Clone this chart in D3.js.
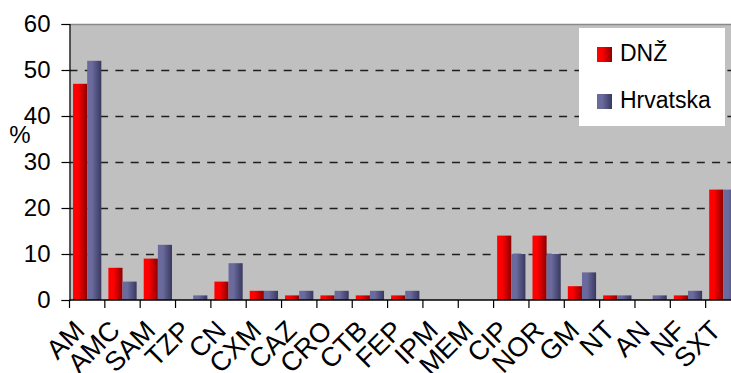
<!DOCTYPE html>
<html>
<head>
<meta charset="utf-8">
<script src="https://cdn.jsdelivr.net/npm/d3@7"></script>
<style>
  html, body { margin: 0; padding: 0; background: #fff; }
  svg { display: block; }
  text { font-family: "Liberation Sans", Arial, sans-serif; fill: #000; }
</style>
</head>
<body>
<svg id="chart" width="731" height="373"></svg>
<script>
const categories = ["AM","AMC","SAM","TZP","CN","CXM","CAZ","CRO","CTB","FEP","IPM","MEM","CIP","NOR","GM","NT","AN","NF","SXT"];
const seriesNames = ["DNŽ","Hrvatska"];
const dnzValues = [47,7,9,0,4,2,1,1,1,1,0,0,14,14,3,1,0,1,24];
const hrvValues = [52,4,12,1,8,2,2,2,2,2,0,0,10,10,6,1,1,2,24];
const yTicks = [0,10,20,30,40,50,60];
const yLabel = "%";

const svg = d3.select("#chart");
const pLeft = 69.5, pRight = 741, pTop = 24, pBottom = 300;

const defs = svg.append("defs");
const grads = [
  {id: "gRed", c0: "#ff0000", c1: "#8c0000"},
  {id: "gBlue", c0: "#6a6a9c", c1: "#383860"}
];
grads.forEach(g => {
  const lg = defs.append("linearGradient").attr("id", g.id)
    .attr("x1", "0%").attr("x2", "100%").attr("y1", "0%").attr("y2", "0%");
  lg.append("stop").attr("offset", "0%").attr("stop-color", g.c0);
  lg.append("stop").attr("offset", "35%").attr("stop-color", g.c0);
  lg.append("stop").attr("offset", "100%").attr("stop-color", g.c1);
});
const fills = ["url(#gRed)", "url(#gBlue)"];

const x0 = d3.scaleBand().domain(categories).range([pLeft, pRight]).padding(0);
const x1 = d3.scaleBand().domain(seriesNames).range([x0.bandwidth()*0.1, x0.bandwidth()*0.9]).padding(0);
const y = d3.scaleLinear().domain([0, 60]).range([pBottom, pTop]);

// plot background
svg.append("rect").attr("x", pLeft).attr("y", pTop).attr("width", pRight-pLeft).attr("height", pBottom-pTop)
  .attr("fill", "#c0c0c0");
// top border
svg.append("line").attr("x1", pLeft).attr("x2", pRight).attr("y1", pTop+0.5).attr("y2", pTop+0.5)
  .attr("stroke", "#8a8a8a").attr("stroke-width", 1.5);

// gridlines
svg.append("g").selectAll("line").data(yTicks.filter(t => t > 0 && t < 60)).join("line")
  .attr("x1", pLeft).attr("x2", pRight)
  .attr("y1", d => Math.round(y(d)) + 0.5).attr("y2", d => Math.round(y(d)) + 0.5)
  .attr("stroke", "#1e1e1e").attr("stroke-width", 1.3).attr("stroke-dasharray", "8,7.3");

// bars
const data = categories.map((c, i) => ({cat: c, vals: [dnzValues[i], hrvValues[i]]}));
const groups = svg.append("g").selectAll("g").data(data).join("g")
  .attr("transform", d => `translate(${x0(d.cat)},0)`);
groups.selectAll("rect").data(d => d.vals.map((v, j) => ({v, s: seriesNames[j], j})))
  .join("rect")
  .attr("x", d => x1(d.s))
  .attr("width", x1.bandwidth())
  .attr("y", d => y(d.v))
  .attr("height", d => pBottom - y(d.v))
  .attr("fill", d => fills[d.j]);

// y axis
const yAxis = d3.axisLeft(y).tickValues(yTicks).tickSize(8).tickPadding(11).tickFormat(d3.format("d"));
const gy = svg.append("g").attr("transform", `translate(${pLeft},0)`).call(yAxis);
gy.select(".domain").attr("stroke", "#000").attr("stroke-width", 1.2);
gy.selectAll(".tick line").attr("stroke", "#000").attr("stroke-width", 1.2);
gy.selectAll(".tick text").style("font-size", "24px").style("font-family", '"Liberation Sans", Arial, sans-serif');

// x axis baseline and ticks at category boundaries
svg.append("line").attr("x1", pLeft).attr("x2", pRight).attr("y1", pBottom).attr("y2", pBottom)
  .attr("stroke", "#000").attr("stroke-width", 1.5);
const boundaries = categories.map(c => x0(c)).concat([pRight]);
svg.append("g").selectAll("line").data(boundaries).join("line")
  .attr("x1", d => d).attr("x2", d => d).attr("y1", pBottom).attr("y2", pBottom + 8)
  .attr("stroke", "#000").attr("stroke-width", 1.2);

// x labels
svg.append("g").selectAll("text").data(categories).join("text")
  .attr("transform", d => `translate(${x0(d) + x0.bandwidth()/2 - 1},${pBottom + 32}) rotate(-45)`)
  .attr("text-anchor", "end")
  .style("font-size", "27px")
  .text(d => d);

// y label
svg.append("text").attr("x", 20).attr("y", 143).attr("text-anchor", "middle")
  .style("font-size", "24px").text(yLabel);

// legend
const lgd = svg.append("g");
lgd.append("rect").attr("x", 579).attr("y", 28).attr("width", 146).attr("height", 98).attr("fill", "#fff");
const legY = [47, 94];
seriesNames.forEach((s, i) => {
  lgd.append("rect").attr("x", 597).attr("y", legY[i]).attr("width", 15).attr("height", 15).attr("fill", fills[i]);
  lgd.append("text").attr("x", 620).attr("y", legY[i] + 13.5).style("font-size", "23px").text(s);
});
</script>
</body>
</html>
